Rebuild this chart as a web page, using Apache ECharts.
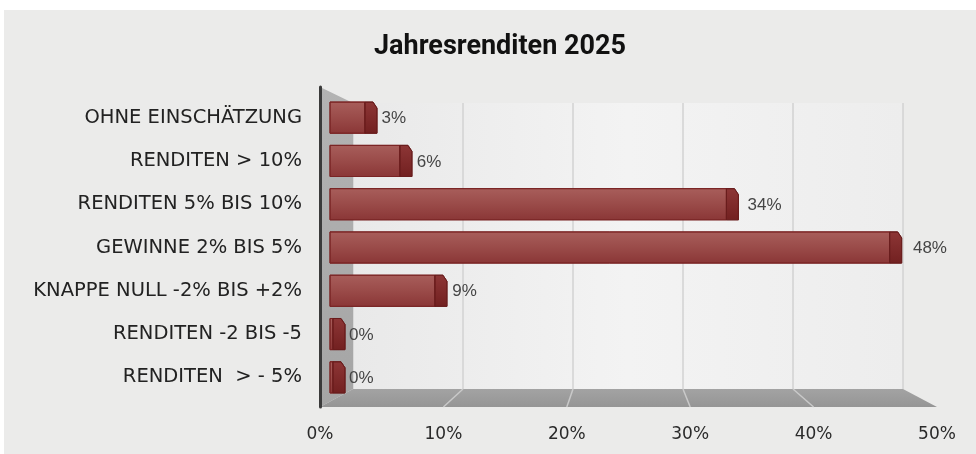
<!DOCTYPE html>
<html><head><meta charset="utf-8">
<script src="https://cdn.jsdelivr.net/npm/echarts@6/dist/echarts.min.js"></script>
<style>html,body{margin:0;padding:0;background:#fff}#c{width:976px;height:454px}</style>
</head><body><div id="c"></div>
<script>
const chartTitle = 'Jahresrenditen 2025';
const categories = ['OHNE EINSCHÄTZUNG', 'RENDITEN > 10%', 'RENDITEN 5% BIS 10%', 'GEWINNE 2% BIS 5%', 'KNAPPE NULL -2% BIS +2%', 'RENDITEN -2 BIS -5', 'RENDITEN  > - 5%'];
const values = [3, 6, 34, 48, 9, 0, 0];
const xTicks = [0, 10, 20, 30, 40, 50];

const xMin = xTicks[0], xMax = xTicks[xTicks.length - 1], xStep = xTicks[1] - xTicks[0];
const labelFont = '"DejaVu Sans", "Open Sans", sans-serif';
const chart = echarts.init(document.getElementById('c'));
const LG = echarts.graphic.LinearGradient;

const option = {
  backgroundColor: '#ebebea',
  animation: false,
  title: {
    text: chartTitle, left: 495, top: 29, textAlign: 'center',
    textStyle: { fontFamily: 'Roboto, sans-serif', fontWeight: 'bold', fontSize: 27, color: '#111' }
  },
  grid: [
    { left: 320, right: 39, top: 87, bottom: 47, containLabel: false },
    { left: 330, right: 63, top: 96, bottom: 55, containLabel: false },
    { left: 353, right: 73, top: 103, bottom: 65, containLabel: false, show: true, borderWidth: 0,
      backgroundColor: new LG(0, 0, 1, 0, [{ offset: 0, color: '#e9e9e9' }, { offset: 0.5, color: '#f3f3f3' }, { offset: 1, color: '#ededed' }]) }
  ],
  xAxis: [
    { gridIndex: 0, type: 'value', min: xMin, max: xMax, interval: xStep,
      axisLine: { show: false }, axisTick: { show: false }, splitLine: { show: false },
      axisLabel: { formatter: '{value}%', fontFamily: labelFont, fontSize: 17, color: '#2a2a2a', margin: 19 } },
    { gridIndex: 1, type: 'value', min: xMin, max: xMax, interval: xStep, show: false },
    { gridIndex: 2, type: 'value', min: xMin, max: xMax, interval: xStep,
      axisLine: { show: false }, axisTick: { show: false }, axisLabel: { show: false },
      splitLine: { show: true, lineStyle: { color: '#d2d2d2', width: 1.5 } } }
  ],
  yAxis: [
    { gridIndex: 0, type: 'value', min: 0, max: 1, z: 5,
      axisLine: { show: true, lineStyle: { color: '#3a3a3a', width: 3 } },
      axisTick: { show: false }, axisLabel: { show: false }, splitLine: { show: false } },
    { gridIndex: 1, type: 'category', data: categories, inverse: true,
      axisLine: { show: false }, axisTick: { show: false }, splitLine: { show: false },
      axisLabel: { margin: 28, fontFamily: labelFont, fontSize: 19.5, color: '#222' } },
    { gridIndex: 2, type: 'value', min: 0, max: 1, show: false }
  ],
  series: [{
    type: 'custom',
    xAxisIndex: 1, yAxisIndex: 1,
    z: 3,
    data: values.map((v, i) => [v, i]),
    encode: { x: 0, y: 1 },
    renderItem: function (params, api) {
      const v = api.value(0), i = api.value(1);
      const p0 = api.coord([xMin, i]), p1 = api.coord([v, i]);
      const h = api.size([0, 1])[1] * 0.72;
      const top = p0[1] - h / 2, bot = p0[1] + h / 2;
      const x0 = p0[0], x1 = Math.max(p1[0], x0 + 3);
      const cap = 12;
      // perspective: labels of longer bars sit slightly further out
      const gap = 4 + (x1 - x0) * 0.013;
      return {
        type: 'group',
        children: [
          { type: 'rect', shape: { x: x0, y: top, width: x1 - x0, height: h },
            style: { fill: new LG(0, 0, 0, 1, [{ offset: 0, color: '#a85e5b' }, { offset: 0.5, color: '#9a4b49' }, { offset: 1, color: '#8a3636' }]),
                     stroke: '#7a2424', lineWidth: 1 } },
          { type: 'polygon', shape: { points: [[x1, top], [x1 + cap - 4, top], [x1 + cap, top + 6], [x1 + cap, bot], [x1, bot]] },
            style: { fill: new LG(0, 0, 0, 1, [{ offset: 0, color: '#8d3636' }, { offset: 1, color: '#722020' }]), stroke: '#6a1d1d', lineWidth: 1 } },
          { type: 'text', style: { text: v + '%', x: x1 + cap + gap, y: p0[1] + 1, verticalAlign: 'middle', align: 'left',
            fontFamily: '"Liberation Sans", Arial, sans-serif', fontSize: 17, fill: '#454545' } }
        ]
      };
    }
  }]
};
chart.setOption(option);

const P = (g, x, y) => chart.convertToPixel({ gridIndex: g }, [x, y]);
const fl = P(0, xMin, 0), fr = P(0, xMax, 0), ft = P(0, xMin, 1);
const bl = P(2, xMin, 0), br = P(2, xMax, 0), bt = P(2, xMin, 1);
const graphics = [
  { type: 'rect', shape: { x: 0, y: 0, width: 976, height: 10 }, style: { fill: '#fff' }, z: 0 },
  { type: 'rect', shape: { x: 0, y: 0, width: 4, height: 454 }, style: { fill: '#fff' }, z: 0 },
  { type: 'polygon', shape: { points: [ft, bt, bl, fl] }, z: 1,
    style: { fill: new LG(0, 0, 0, 1, [{ offset: 0, color: '#b3b3b3' }, { offset: 1, color: '#a5a5a5' }]) } },
  { type: 'polygon', shape: { points: [fl, bl, br, fr] }, z: 1,
    style: { fill: new LG(0, 0, 0, 1, [{ offset: 0, color: '#a3a3a3' }, { offset: 1, color: '#959595' }]) } }
];
xTicks.slice(1, -1).forEach(t => {
  const a = P(2, t, 0), b = P(0, t, 0);
  graphics.push({ type: 'line', shape: { x1: a[0], y1: a[1], x2: b[0], y2: b[1] }, z: 1, style: { stroke: '#c9c9c9', lineWidth: 1.5 } });
});
chart.setOption({ graphic: graphics });
</script>
</body></html>
